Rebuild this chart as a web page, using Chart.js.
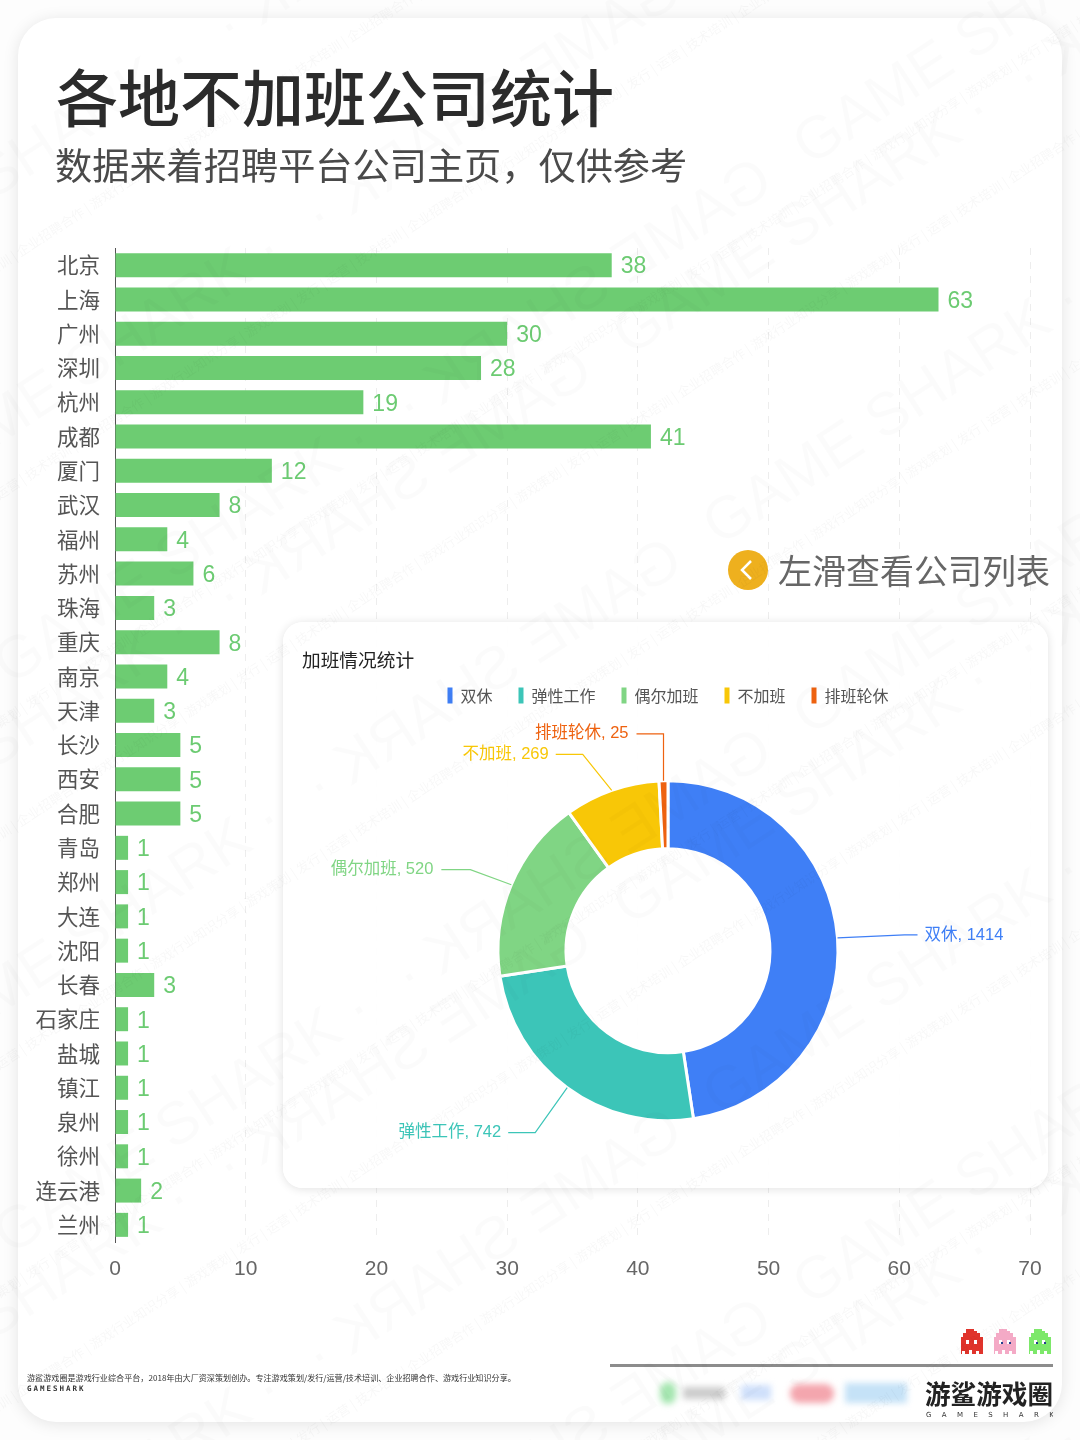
<!DOCTYPE html>
<html lang="zh"><head><meta charset="utf-8">
<script src="https://cdn.jsdelivr.net/npm/chart.js@4"></script>
<style>
*{box-sizing:border-box}
html,body{margin:0;padding:0;width:1080px;height:1440px;overflow:hidden;background:#fdfdfd;font-family:"Liberation Sans","Noto Sans CJK SC",sans-serif}
#page{position:absolute;left:18px;top:18px;width:1044px;height:1404px;background:#fff;border-radius:38px;box-shadow:0 2px 16px rgba(0,0,0,.10)}
.abs{position:absolute;white-space:nowrap;line-height:1}
#barC{position:absolute;left:0;top:0}
#card{position:absolute;left:283px;top:622px;width:765px;height:566px;background:rgba(255,255,255,.92);border-radius:20px;box-shadow:0 1px 10px rgba(0,0,0,.12)}
#pieC{position:absolute;left:0;top:0}
#wm{position:absolute;left:0;top:0;width:1080px;height:1440px;overflow:hidden;pointer-events:none}
#wm div{position:absolute;white-space:nowrap;color:rgba(0,0,0,.016);transform:rotate(-33deg);transform-origin:0 0}
#wm div.big{font:400 60px "Liberation Sans",sans-serif}
#wm div.small{font:400 13px "Noto Sans CJK SC",sans-serif;color:rgba(0,0,0,.03)}
#wm span{display:inline-block;margin-right:40px}
#wm span.m{transform:scaleX(-1)}
</style></head><body>
<div id="page"></div>
<canvas id="barC" width="1080" height="1440"></canvas>
<div class="abs" style="left:56px;top:63px;font:500 62px/64px 'Noto Sans CJK SC';color:#2b2b2b">各地不加班公司统计</div>
<div class="abs" style="left:55px;top:144px;font:400 37.2px/40px 'Noto Sans CJK SC';color:#4a4a4a">数据来着招聘平台公司主页，仅供参考</div>
<svg class="abs" style="left:728px;top:550px" width="40" height="40"><circle cx="20" cy="20" r="20" fill="#eeb01e"/><path d="M23 11 L14 20 L23 29" fill="none" stroke="#fff" stroke-width="2.5"/></svg>
<div class="abs" style="left:778px;top:552px;font:400 34px/36px 'Noto Sans CJK SC';color:#666">左滑查看公司列表</div>
<div id="card"><canvas id="pieC" width="765" height="566"></canvas></div>
<div class="abs" style="left:27px;top:1373px;font:400 8.1px/9px 'Noto Sans CJK SC';color:#333">游鲨游戏圈是游戏行业综合平台，2018年由大厂资深策划创办。专注游戏策划/发行/运营/技术培训、企业招聘合作、游戏行业知识分享。</div>
<div class="abs" style="left:27px;top:1384px;font:700 7.5px/9px 'DejaVu Sans Mono';letter-spacing:2px;color:#333">GAMESHARK</div>
<div class="abs" style="left:610px;top:1364px;width:443px;height:3px;background:#8c8c8c"></div>
<svg class="abs" style="left:960px;top:1328px" width="94" height="28" shape-rendering="crispEdges">
<g><path fill="#e0342c" d="M5 1h8v2h3v2h3v4h3v17h-4v-3h-3v3h-4v-4h-3v4h-4v-3h-3v3H0V9h2V5h3z" transform="translate(1 0)"/><rect x="6" y="12" width="3" height="4" fill="#fff"/><rect x="14" y="12" width="3" height="4" fill="#fff"/></g>
<g transform="translate(33 0)"><path fill="#f4aac6" d="M5 1h8v2h3v2h3v4h3v17h-4v-3h-3v3h-4v-4h-3v4h-4v-3h-3v3H0V9h2V5h3z" transform="translate(1 0)"/><rect x="6" y="12" width="3" height="4" fill="#fff"/><rect x="14" y="12" width="3" height="4" fill="#fff"/><rect x="8" y="14" width="2" height="2" fill="#24408e"/><rect x="16" y="14" width="2" height="2" fill="#24408e"/></g>
<g transform="translate(68 0)"><path fill="#7de86a" d="M5 1h8v2h3v2h3v4h3v17h-4v-3h-3v3h-4v-4h-3v4h-4v-3h-3v3H0V9h2V5h3z" transform="translate(1 0)"/><rect x="6" y="12" width="3" height="4" fill="#fff"/><rect x="14" y="12" width="3" height="4" fill="#fff"/><rect x="8" y="14" width="2" height="2" fill="#24408e"/><rect x="16" y="14" width="2" height="2" fill="#24408e"/></g>
</svg>
<div class="abs" style="left:655px;top:1380px;width:260px;height:26px;filter:blur(3px)">
<div class="abs" style="left:5px;top:2px;width:16px;height:22px;border-radius:8px;background:#a5e6b0"></div>
<div class="abs" style="left:28px;top:7px;width:42px;height:12px;background:#ccc"></div>
<div class="abs" style="left:86px;top:5px;width:30px;height:15px;background:#cfe0fb"></div>
<div class="abs" style="left:135px;top:4px;width:44px;height:19px;border-radius:9px;background:#f4a6ae"></div>
<div class="abs" style="left:190px;top:3px;width:62px;height:20px;background:#c5e2f7"></div>
</div>
<div class="abs" style="left:925px;top:1379px;font:700 25.6px/28px 'Noto Sans CJK SC';color:#222">游鲨游戏圈</div>
<div class="abs" style="left:926px;top:1411px;width:127px;overflow:hidden;font:400 7px/8px 'DejaVu Sans';letter-spacing:10.4px;color:#333">GAMESHARK</div>
<div id="wm"></div>
<script>
const cities = ["北京","上海","广州","深圳","杭州","成都","厦门","武汉","福州","苏州","珠海","重庆","南京","天津","长沙","西安","合肥","青岛","郑州","大连","沈阳","长春","石家庄","盐城","镇江","泉州","徐州","连云港","兰州"];
const companyCounts = [38,63,30,28,19,41,12,8,4,6,3,8,4,3,5,5,5,1,1,1,1,3,1,1,1,1,1,2,1];
const xTicks = [0,10,20,30,40,50,60,70];
const workTypes = ["双休","弹性工作","偶尔加班","不加班","排班轮休"];
const workCounts = [1414,742,520,269,25];
const workColors = ["#3f7ff6","#3cc5b8","#80d584","#f8c707","#ee6210"];
const cjk = '"Liberation Sans","Noto Sans CJK SC",sans-serif';

const barLabels = {id:'barLabels',afterDatasetsDraw(c){
  const x=c.ctx,m=c.getDatasetMeta(0);
  x.save();x.font='23px '+cjk;x.fillStyle='#6ccb72';x.textBaseline='middle';x.textAlign='left';
  m.data.forEach((b,i)=>x.fillText(companyCounts[i],b.x+9,b.y+2));
  x.restore();
}};
new Chart(document.getElementById('barC'),{type:'bar',
  data:{labels:cities,datasets:[{data:companyCounts,backgroundColor:'#6dcc72',barPercentage:.7,categoryPercentage:1}]},
  options:{indexAxis:'y',responsive:false,animation:false,devicePixelRatio:1,
    layout:{padding:{top:248,right:50,bottom:148,left:0}},
    plugins:{legend:{display:false},tooltip:{enabled:false}},
    scales:{
      x:{min:0,max:70,afterBuildTicks(a){a.ticks=xTicks.map(v=>({value:v}))},afterFit(a){a.height=50},
        grid:{color:'#ededed',drawTicks:false},border:{display:false,dash:[7,7]},
        ticks:{font:{size:21,family:cjk},color:'#666',padding:15,maxRotation:0}},
      y:{afterFit(a){a.width=115},grid:{display:false,drawTicks:false},border:{display:true,color:'#555',width:1},
        ticks:{font:{size:21.5,family:'"Noto Sans CJK SC"'},color:'#555',padding:15,autoSkip:false}}
    }},plugins:[barLabels]});

// elbow and label end relative to the slice's outer anchor point
const leaders = [
  {bend:[67,-3],end:[80,-3],text:[87,-3]},
  {bend:[-32,45],end:[-59,45],text:[-66,45]},
  {bend:[-41,-15],end:[-70,-15],text:[-78,-15]},
  {bend:[-29,-36],end:[-56,-36],text:[-63,-36]},
  {bend:[0,-47],end:[-27,-47],text:[-35,-47]}
];
const pieLabels = {id:'pieLabels',afterDatasetsDraw(c){
  const x=c.ctx,m=c.getDatasetMeta(0);
  x.save();x.font='16.5px '+cjk;x.textBaseline='middle';x.lineWidth=1.2;
  m.data.forEach((a,i)=>{
    const mid=(a.startAngle+a.endAngle)/2,ax=a.x+Math.cos(mid)*a.outerRadius,ay=a.y+Math.sin(mid)*a.outerRadius,l=leaders[i];
    x.strokeStyle=x.fillStyle=workColors[i];
    x.beginPath();x.moveTo(ax,ay);x.lineTo(ax+l.bend[0],ay+l.bend[1]);x.lineTo(ax+l.end[0],ay+l.end[1]);x.stroke();
    x.textAlign=l.text[0]>0?'left':'right';
    x.fillText(workTypes[i]+', '+workCounts[i],ax+l.text[0],ay+l.text[1]);
  });
  x.restore();
}};
new Chart(document.getElementById('pieC'),{type:'doughnut',
  data:{labels:workTypes,datasets:[{data:workCounts,backgroundColor:workColors,borderColor:'#fff',borderWidth:3,radius:170,cutout:'60%'}]},
  options:{responsive:false,animation:false,devicePixelRatio:1,
    layout:{padding:{top:27,left:19,right:14,bottom:0}},
    plugins:{
      tooltip:{enabled:false},
      title:{display:true,text:'加班情况统计',align:'start',color:'#222',font:{size:18.7,weight:'normal',family:'"Noto Sans CJK SC"'},padding:{top:0,bottom:-10}},
      legend:{position:'top',labels:{boxWidth:5,boxHeight:16,padding:26,color:'#555',font:{size:16,family:'"Noto Sans CJK SC"'},
        generateLabels(ch){return Chart.overrides.doughnut.plugins.legend.labels.generateLabels(ch).map(l=>({...l,lineWidth:0}));}}}
    }},plugins:[pieLabels]});

const wm=document.getElementById('wm');
for(let r=0;r<13;r++){
  const d=document.createElement('div');d.className='big';
  d.style.left=(-200+(r%3)*90)+'px';d.style.top=(260+r*190)+'px';
  for(let k=0;k<4;k++){const s=document.createElement('span');s.textContent='GAME SHARK ·';if(k%2)s.className='m';d.appendChild(s);}
  wm.appendChild(d);
  const e=document.createElement('div');e.className='small';
  e.style.left=(-150+(r%3)*60)+'px';e.style.top=(350+r*190)+'px';
  e.textContent='游戏策划 | 发行 | 运营 | 技术培训 | 企业招聘合作 | 游戏行业知识分享 | '.repeat(5);
  wm.appendChild(e);
}
</script>
</body></html>
